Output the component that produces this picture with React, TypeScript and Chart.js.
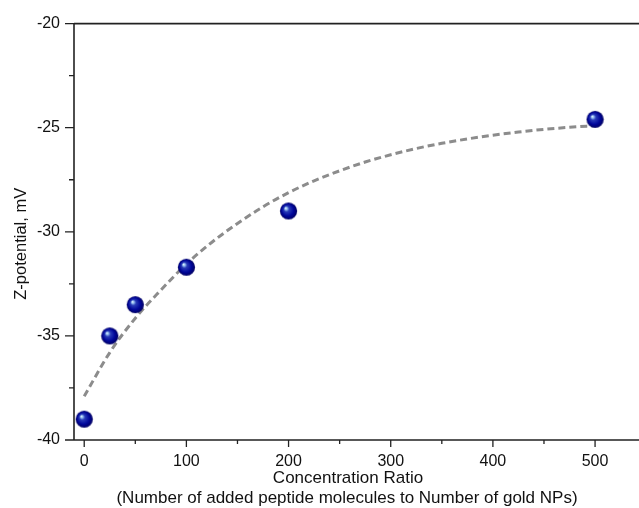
import React, { useEffect, useRef } from "react";
import { Chart, registerables } from "chart.js";

Chart.register(...registerables);

// Measured points
const ratios = [0, 25, 50, 100, 200, 500];
const zeta = [-39.0, -35.0, -33.5, -31.7, -29.0, -24.6];

// Fitted (dashed) curve
const fitX = [0, 25, 50, 75, 100, 125, 150, 175, 200, 225, 250, 275, 300, 325, 350, 375, 400, 425, 450, 475, 500];
const fitY = [-37.9, -35.8, -34.15, -32.8, -31.55, -30.5, -29.6, -28.8, -28.12, -27.55, -27.07, -26.65, -26.3, -26.0, -25.75, -25.54, -25.36, -25.21, -25.08, -24.98, -24.9];

// Ticks
const xMajor = [0, 100, 200, 300, 400, 500];
const xMinor = [50, 150, 250, 350, 450];
const yMajor = [-40, -35, -30, -25, -20];
const yMinor = [-37.5, -32.5, -27.5, -22.5];

const xTitle = ["Concentration Ratio", "(Number of added peptide molecules to Number of gold NPs)"];
const yTitle = "Z-potential, mV";

const FONT = "'Liberation Sans', Arial, sans-serif";

function makeSphere(): HTMLCanvasElement {
  const d = 19;
  const c = document.createElement("canvas");
  c.width = d;
  c.height = d;
  const g = c.getContext("2d")!;
  const cx = d / 2;
  const cy = d / 2;
  const r = 8.6;
  const grad = g.createRadialGradient(cx - 3, cy - 3, 0, cx, cy, r);
  grad.addColorStop(0, "#eef8ff");
  grad.addColorStop(0.14, "#9cc8f4");
  grad.addColorStop(0.32, "#2a3cb8");
  grad.addColorStop(0.7, "#00069a");
  grad.addColorStop(1, "#000060");
  g.fillStyle = grad;
  g.beginPath();
  g.arc(cx, cy, r, 0, Math.PI * 2);
  g.fill();
  return c;
}

const axesPlugin = {
  id: "originAxes",
  beforeDatasetsDraw(chart: any) {
    const { ctx, chartArea } = chart;
    const xs = chart.scales.x;
    const ys = chart.scales.y;
    const W = chart.width;
    ctx.save();
    ctx.strokeStyle = "#222";
    ctx.lineWidth = 1.6;
    ctx.beginPath();
    ctx.moveTo(chartArea.left, chartArea.top);
    ctx.lineTo(W, chartArea.top);
    ctx.moveTo(chartArea.left, chartArea.top);
    ctx.lineTo(chartArea.left, chartArea.bottom);
    ctx.moveTo(chartArea.left, chartArea.bottom);
    ctx.lineTo(W, chartArea.bottom);
    ctx.stroke();
    ctx.lineWidth = 1.3;
    ctx.beginPath();
    xMajor.forEach((v) => {
      const p = xs.getPixelForValue(v);
      ctx.moveTo(p, chartArea.bottom);
      ctx.lineTo(p, chartArea.bottom + 7);
    });
    xMinor.forEach((v) => {
      const p = xs.getPixelForValue(v);
      ctx.moveTo(p, chartArea.bottom);
      ctx.lineTo(p, chartArea.bottom + 4);
    });
    yMajor.forEach((v) => {
      const p = ys.getPixelForValue(v);
      ctx.moveTo(chartArea.left, p);
      ctx.lineTo(chartArea.left - 9, p);
    });
    yMinor.forEach((v) => {
      const p = ys.getPixelForValue(v);
      ctx.moveTo(chartArea.left, p);
      ctx.lineTo(chartArea.left - 5, p);
    });
    ctx.stroke();

    // axis titles
    ctx.fillStyle = "#111";
    ctx.textAlign = "center";
    ctx.textBaseline = "middle";
    ctx.font = `17px ${FONT}`;
    ctx.fillText(xTitle[0], 348, chartArea.bottom + 38);
    ctx.fillText(xTitle[1], 347, chartArea.bottom + 58);
    ctx.save();
    ctx.translate(21, (chartArea.top + chartArea.bottom) / 2 + 12);
    ctx.rotate(-Math.PI / 2);
    ctx.font = `16.5px ${FONT}`;
    ctx.fillText(yTitle, 0, 0);
    ctx.restore();
    ctx.restore();
  },
};

export default function App() {
  const ref = useRef<HTMLCanvasElement | null>(null);
  useEffect(() => {
    if (!ref.current) return;
    const sphere = makeSphere();
    const chart = new Chart(ref.current, {
      type: "line",
      data: {
        datasets: [
          {
            label: "Measured",
            data: ratios.map((x, i) => ({ x, y: zeta[i] })),
            showLine: false,
            pointStyle: sphere as any,
            pointRadius: 9,
            order: 0,
          },
          {
            label: "Fit",
            data: fitX.map((x, i) => ({ x, y: fitY[i] })),
            borderColor: "#8c8c8c",
            borderWidth: 3,
            borderDash: [7, 4],
            pointRadius: 0,
            fill: false,
            cubicInterpolationMode: "monotone",
            order: 1,
          },
        ],
      },
      options: {
        animation: false,
        responsive: true,
        maintainAspectRatio: false,
        layout: { autoPadding: false, padding: { top: 21, right: 0, left: 0, bottom: 0 } },
        plugins: { legend: { display: false }, tooltip: { enabled: false } },
        scales: {
          x: {
            type: "linear",
            min: -10,
            max: 543,
            grid: { display: false, drawTicks: false },
            border: { display: false },
            afterBuildTicks: (s: any) => {
              s.ticks = xMajor.map((v) => ({ value: v }));
            },
            afterFit: (s: any) => {
              s.height = 68;
              s.paddingLeft = 0;
              s.paddingRight = 0;
            },
            ticks: {
              padding: 12,
              color: "#111",
              font: { family: FONT, size: 16 },
              maxRotation: 0,
              callback: (v: any) => String(v),
            },
          },
          y: {
            type: "linear",
            min: -40,
            max: -20,
            grid: { display: false, drawTicks: false },
            border: { display: false },
            afterBuildTicks: (s: any) => {
              s.ticks = yMajor.map((v) => ({ value: v }));
            },
            afterFit: (s: any) => {
              s.width = 74;
            },
            ticks: {
              padding: 14,
              color: "#111",
              font: { family: FONT, size: 16 },
              callback: (v: any) => String(v),
            },
          },
        },
      },
      plugins: [axesPlugin],
    });
    return () => chart.destroy();
  }, []);
  return (
    <div style={{ position: "fixed", left: 0, top: 0, width: 639, height: 508, background: "#fff" }}>
      <canvas ref={ref} />
    </div>
  );
}
